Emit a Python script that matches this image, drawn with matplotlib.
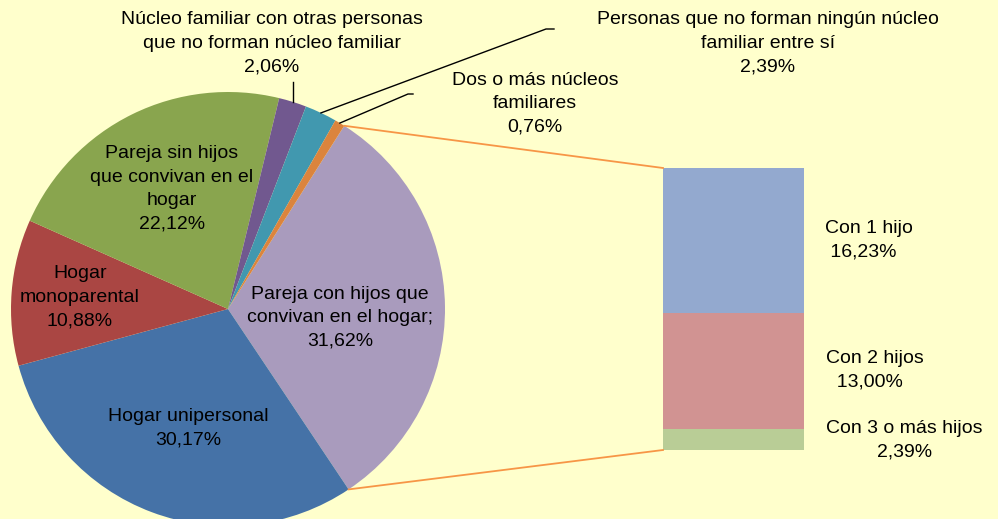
import numpy as np
import matplotlib.pyplot as plt

plt.rcParams['font.family'] = ['Liberation Sans', 'DejaVu Sans']

# pie slices (percent), clockwise from the exploded one
labels = ['Pareja con hijos que\nconvivan en el hogar;', 'Hogar unipersonal',
          'Hogar\nmonoparental', 'Pareja sin hijos\nque convivan en el\nhogar',
          'Núcleo familiar con otras personas\nque no forman núcleo familiar',
          'Personas que no forman ningún núcleo\nfamiliar entre sí',
          'Dos o más núcleos\nfamiliares']
values = [31.62, 30.17, 10.88, 22.12, 2.06, 2.39, 0.76]
colors = ['#A99BBD', '#4572A7', '#AA4643', '#89A54E', '#71588F', '#4198AF', '#DB843D']

# breakdown of the first slice
bar_labels = ['Con 3 o más hijos', 'Con 2 hijos', 'Con 1 hijo']
bar_values = [2.39, 13.00, 16.23]
bar_colors = ['#B9CD96', '#D19392', '#93A9CF']

def fmt(v):
    return ('%.2f%%' % v).replace('.', ',')

W, H = 998, 519
bg = '#FFFFCC'
fig = plt.figure(figsize=(W / 100, H / 100), dpi=100, facecolor=bg)
ax = fig.add_axes([0, 0, 1, 1])
ax.set_facecolor(bg)

cx, cy, r = 228, 210, 217
start = 57.6
ax.pie(values, colors=colors, startangle=start, counterclock=False,
       center=(cx, cy), radius=r, wedgeprops=dict(linewidth=0))

# angles of each slice
ang = []
a = start
for v in values:
    a1 = a - 360 * v / 100
    ang.append((a, a1, (a + a1) / 2))
    a = a1

def edge(deg):
    t = np.radians(deg)
    return cx + r * np.cos(t), cy + r * np.sin(t)

# stacked bar
bx, bw, bbot, btop = 733.5, 141, 69, 351
k = (btop - bbot) / sum(bar_values)
bottom = bbot
for v, c in zip(bar_values, bar_colors):
    ax.bar(bx, v * k, width=bw, bottom=bottom, color=c, linewidth=0)
    bottom += v * k

# connectors pie -> bar
p0 = edge(ang[0][0])
p1 = edge(ang[0][1])
ax.plot([p0[0], bx - bw / 2], [p0[1], btop], color='#F79646', lw=1.3)
ax.plot([p1[0], bx - bw / 2], [p1[1], bbot], color='#F79646', lw=1.3)

fs = 14
ls = 1.5
# labels inside
ax.text(340, 201, labels[0] + '\n' + fmt(values[0]), ha='center', va='center', fontsize=fs, linespacing=ls)
ax.text(188, 91, labels[1] + '\n' + fmt(values[1]), ha='center', va='center', fontsize=fs, linespacing=ls)
ax.text(80, 222, labels[2] + '\n' + fmt(values[2]), ha='center', va='center', fontsize=fs, linespacing=ls)
ax.text(172, 330, labels[3] + '\n' + fmt(values[3]), ha='center', va='center', fontsize=fs, linespacing=ls)

# outside labels with leader lines
ax.text(272, 476, labels[4] + '\n' + fmt(values[4]), ha='center', va='center', fontsize=fs, linespacing=ls)
e = edge(ang[4][2])
ax.plot([e[0], e[0]], [e[1], 437], color='black', lw=1)

ax.text(768, 476, labels[5] + '\n' + fmt(values[5]), ha='center', va='center', fontsize=fs, linespacing=ls)
e = edge(ang[5][2])
ax.plot([e[0], 546, 554], [e[1], 490, 490], color='black', lw=1)

ax.text(535, 415, labels[6] + '\n' + fmt(values[6]), ha='center', va='center', fontsize=fs, linespacing=ls)
e = edge(ang[6][2])
ax.plot([e[0], 408, 413], [e[1], 425, 425], color='black', lw=1)

# bar labels
ax.text(825, 279, bar_labels[2] + '\n ' + fmt(bar_values[2]), ha='left', va='center', fontsize=fs, linespacing=ls)
ax.text(826, 149, bar_labels[1] + '\n  ' + fmt(bar_values[1]), ha='left', va='center', fontsize=fs, linespacing=ls)
ax.text(826, 79, bar_labels[0] + '\n' + fmt(bar_values[0]), ha='left', va='center',
        multialignment='center', fontsize=fs, linespacing=ls)

ax.set_xlim(0, W)
ax.set_ylim(0, H)
ax.set_aspect('auto')
ax.axis('off')
fig.savefig('out.png', dpi=100, facecolor=bg)
